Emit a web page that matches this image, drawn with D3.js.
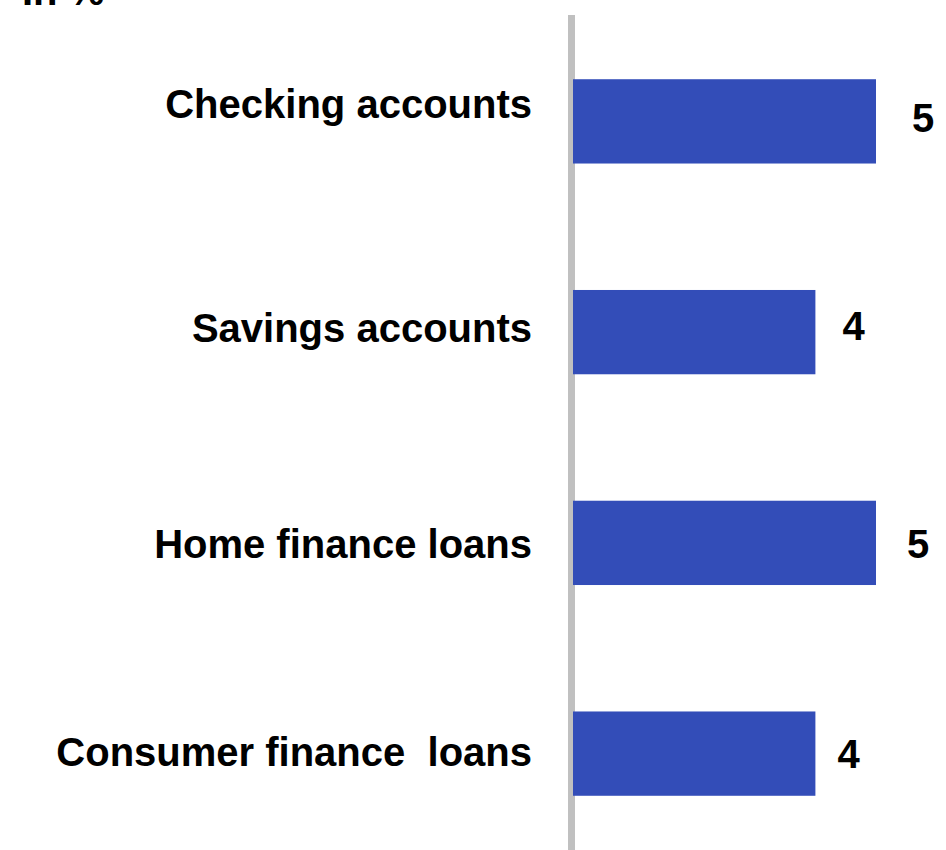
<!DOCTYPE html>
<html>
<head>
<meta charset="utf-8">
<script src="https://cdn.jsdelivr.net/npm/d3@7"></script>
<style>
  html, body { margin: 0; padding: 0; background: #fff; }
  svg { display: block; }
  text { font-family: Arial, "Liberation Sans", Helvetica, sans-serif; font-weight: bold; fill: #000; }
</style>
</head>
<body>
<svg id="chart" width="946" height="850"></svg>
<script>
const categories = ["Checking accounts", "Savings accounts", "Home finance loans", "Consumer finance  loans"];
const values = [5, 4, 5, 4];
const unitLabel = "In %";

// small per-row label nudges (layout only, in px)
const catNudgeY = [-3, 10, 15, 12];     // baseline offset from bar centre
const valNudgeX = [36, 27, 31, 22];     // gap after bar end
const valNudgeY = [11, 8, 15, 14];      // baseline offset from bar centre

const W = 946, H = 850;
const svg = d3.select("#chart");

const x = d3.scaleLinear().domain([0, 5]).range([573, 876]);
const y = d3.scaleBand().domain(categories).range([16, 859])
  .paddingInner(0.6).paddingOuter(0.3);

// unit label (partly cut off at top, as in the original)
svg.append("text").attr("x", 22).attr("y", 5)
  .style("font-size", "40px").text(unitLabel);

// vertical axis line
svg.append("line")
  .attr("x1", 571.5).attr("x2", 571.5)
  .attr("y1", 15).attr("y2", H)
  .attr("stroke", "#c0c0c0").attr("stroke-width", 7);

const rows = categories.map((c, i) => ({ c, v: values[i], i }));
const mid = d => y(d.c) + y.bandwidth() / 2;

svg.selectAll("rect.bar").data(rows).enter().append("rect")
  .attr("class", "bar")
  .attr("x", x(0))
  .attr("y", d => y(d.c))
  .attr("width", d => x(d.v) - x(0))
  .attr("height", y.bandwidth())
  .attr("fill", "#334db8");

// category labels
svg.selectAll("text.cat").data(rows).enter().append("text")
  .attr("class", "cat")
  .attr("x", 532)
  .attr("y", d => mid(d) + catNudgeY[d.i])
  .attr("text-anchor", "end")
  .style("font-size", "40px")
  .style("white-space", "pre")
  .text(d => d.c);

// value labels
svg.selectAll("text.val").data(rows).enter().append("text")
  .attr("class", "val")
  .attr("x", d => x(d.v) + valNudgeX[d.i])
  .attr("y", d => mid(d) + valNudgeY[d.i])
  .style("font-size", "40px")
  .text(d => d.v);
</script>
</body>
</html>
